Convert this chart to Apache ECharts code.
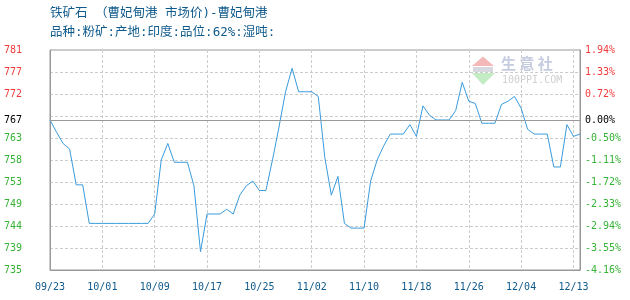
<!DOCTYPE html>
<html>
<head>
<meta charset="utf-8">
<script src="https://cdn.jsdelivr.net/npm/echarts@6/dist/echarts.min.js"></script>
<style>html,body{margin:0;padding:0;background:#fff}#c{width:630px;height:300px}</style>
</head>
<body>
<div id="c"></div>
<script>
var titleLine1 = '铁矿石 （曹妃甸港 市场价)-曹妃甸港';
var titleLine2 = '品种:粉矿:产地:印度:品位:62%:湿吨:';

var dates = [
 '09/23','09/24','09/25','09/26','09/27','09/28','09/29','09/30',
 '10/01','10/02','10/03','10/04','10/05','10/06','10/07','10/08','10/09','10/10',
 '10/11','10/12','10/13','10/14','10/15','10/16','10/17','10/18','10/19','10/20',
 '10/21','10/22','10/23','10/24','10/25','10/26','10/27','10/28','10/29','10/30','10/31',
 '11/01','11/02','11/03','11/04','11/05','11/06','11/07','11/08','11/09','11/10',
 '11/11','11/12','11/13','11/14','11/15','11/16','11/17','11/18','11/19','11/20',
 '11/21','11/22','11/23','11/24','11/25','11/26','11/27','11/28','11/29','11/30',
 '12/01','12/02','12/03','12/04','12/05','12/06','12/07','12/09','12/10','12/11','12/12','12/13','12/14'
];

var prices = [
 767, 764.4, 762, 760.8, 753.2, 753.2, 745, 745, 745, 745,
 745, 745, 745, 745, 745, 745, 747, 758.5, 762, 758,
 758, 758, 753, 739, 747, 747, 747, 748, 747, 751,
 753, 754, 752, 752, 758.5, 765.5, 773, 778, 773, 773,
 773, 772, 759, 751, 755, 745, 744, 744, 744, 754,
 758.5, 761.5, 764, 764, 764, 766, 763.5, 770, 768, 767,
 767, 767, 769, 775, 771, 770.5, 766.3, 766.3, 766.3, 770.3,
 771, 772, 769.5, 765, 764, 764, 764, 757, 757, 766,
 763.5, 764
];

var basePrice = 767;
var baseLabelLeft = '767';
var baseLabelRight = '0.00%';
var priceMin = 735.09;
var priceMax = 781.88;

var leftLabels  = ['735','739','744','749','753','758','763','','772','777','781'];
var rightLabels = ['-4.16%','-3.55%','-2.94%','-2.33%','-1.72%','-1.11%','-0.50%','','0.72%','1.33%','1.94%'];

var RED = '#f23c3c', GREEN = '#36b336', BLUE_TXT = '#0f5a8c', MONO = 'DejaVu Sans Mono';
var TITLE_FONT = '12.5px "DejaVu Sans Mono", "Noto Sans CJK SC"';
function lblColor(v){ return v >= 8 ? RED : GREEN; }

var chart = echarts.init(document.getElementById('c'), null, {renderer:'canvas'});
chart.setOption({
  animation: false,
  backgroundColor: '#fff',
  grid: {left: 50, right: 50, top: 50, bottom: 30, show: true, borderColor: '#999', borderWidth: 1},
  xAxis: {
    type: 'category', data: dates, boundaryGap: false,
    axisLine: {lineStyle: {color: '#999'}},
    axisTick: {show: false},
    axisLabel: {interval: 7, color: BLUE_TXT, fontFamily: MONO, fontSize: 10, margin: 12},
    splitLine: {show: true, interval: 7, lineStyle: {color: '#ccc', type: [3, 2]}}
  },
  yAxis: [
    {type: 'value', min: 0, max: 10, interval: 1, position: 'left',
     axisLine: {show: true, lineStyle: {color: '#999'}}, axisTick: {show: false},
     splitLine: {show: true, lineStyle: {color: '#ccc', type: [3, 2]}},
     axisLabel: {margin: 28, fontFamily: MONO, fontSize: 10,
       formatter: function(v){ return leftLabels[v]; },
       color: function(v){ return lblColor(v); }}},
    {type: 'value', min: 0, max: 10, interval: 1, position: 'right',
     axisLine: {show: true, lineStyle: {color: '#999'}}, axisTick: {show: false},
     splitLine: {show: false},
     axisLabel: {margin: 5, fontFamily: MONO, fontSize: 10, align: 'left',
       formatter: function(v){ return rightLabels[v]; },
       color: function(v){ return lblColor(v); }}},
    {type: 'value', min: priceMin, max: priceMax, show: false, splitLine: {show: false}}
  ],
  series: [{
    type: 'line', yAxisIndex: 2, data: prices, symbol: 'none',
    lineStyle: {color: '#3a9bdc', width: 1},
    markLine: {
      silent: true, symbol: ['none','none'],
      lineStyle: {color: '#999', type: 'solid', width: 1},
      label: {fontFamily: MONO, fontSize: 10, color: '#000'},
      data: [
        {yAxis: basePrice, label: {position: 'start', distance: 28, formatter: baseLabelLeft}},
        {yAxis: basePrice, label: {position: 'end', distance: 5, formatter: baseLabelRight}}
      ]
    }
  }],
  graphic: [
    {type: 'text', left: 50, top: 7, style: {text: titleLine1, fill: BLUE_TXT, font: TITLE_FONT}},
    {type: 'text', left: 50, top: 26, style: {text: titleLine2, fill: BLUE_TXT, font: TITLE_FONT}},
    {type: 'polygon', shape: {points: [[483,56.5],[472,66],[494,66]]}, style: {fill: '#f5b8b8'}, silent: true},
    {type: 'rect', shape: {x: 473, y: 67, width: 20, height: 5}, style: {fill: '#d8d8e0'}, silent: true},
    {type: 'polygon', shape: {points: [[472,73],[495,73],[483,85]]}, style: {fill: '#c4ecc4'}, silent: true},
    {type: 'text', left: 501, top: 56, style: {text: '生 意 社', fill: '#c6cce0', font: 'bold 15px "Noto Sans CJK SC"'}, silent: true},
    {type: 'text', left: 502, top: 75, style: {text: '100PPI.COM', fill: '#cfcfcf', font: '10px "DejaVu Sans Mono"'}, silent: true}
  ]
});
</script>
</body>
</html>
